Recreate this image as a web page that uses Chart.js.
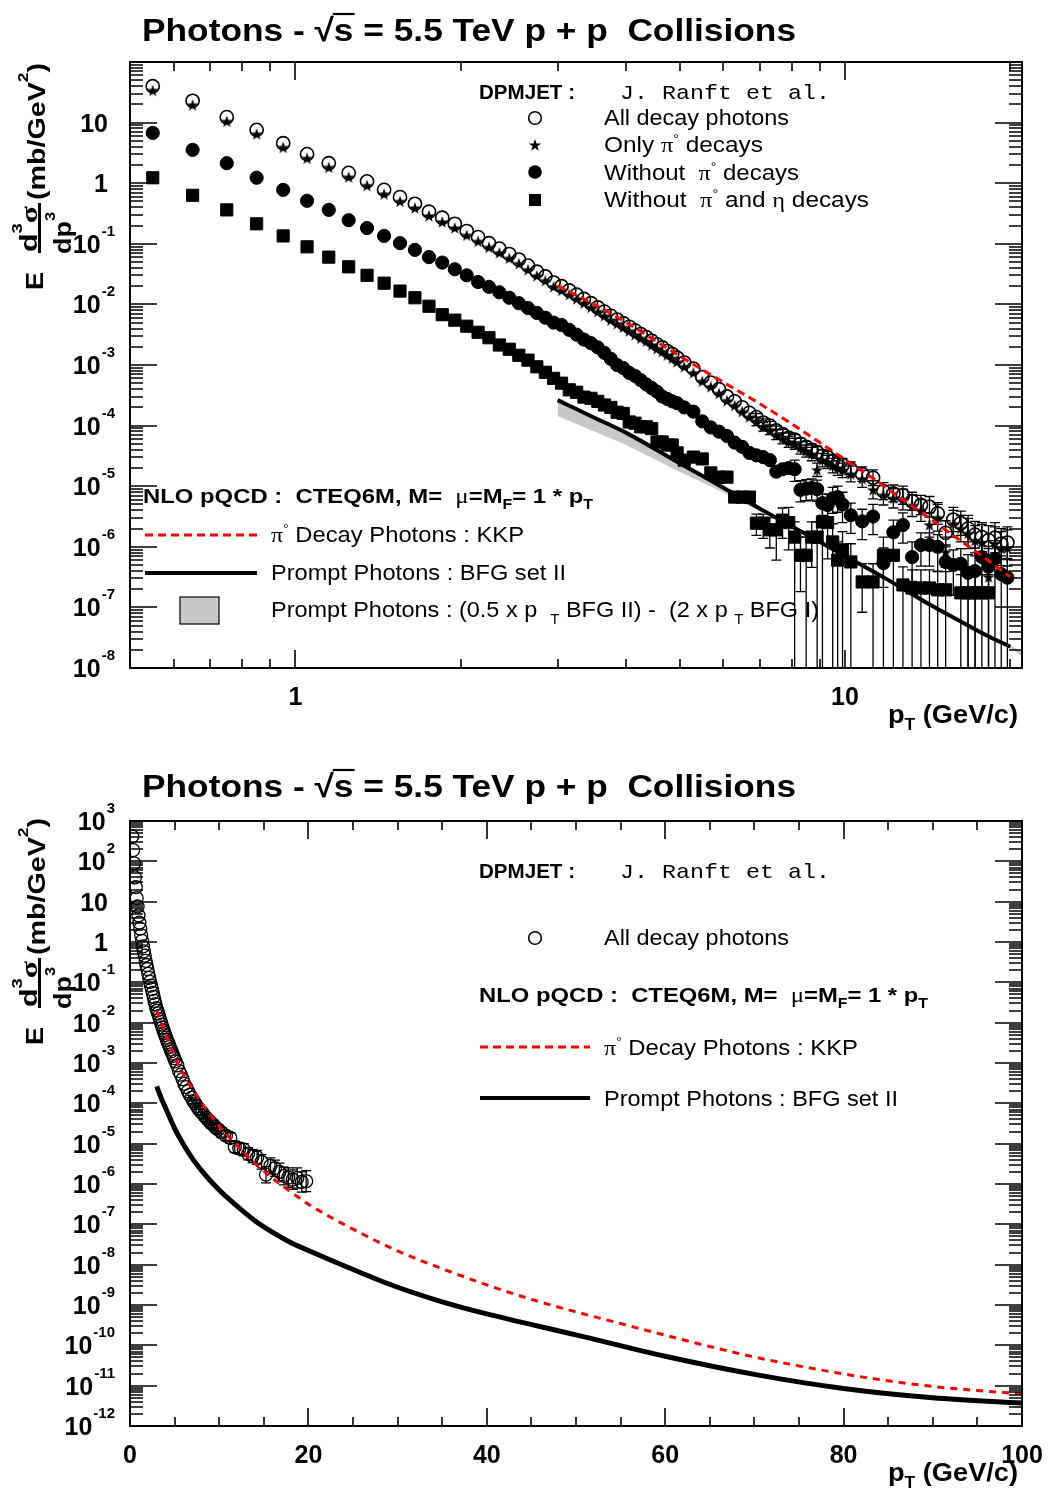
<!DOCTYPE html>
<html>
<head>
<meta charset="utf-8">
<script src="https://cdn.jsdelivr.net/npm/chart.js@4.4.0/dist/chart.umd.min.js"></script>
<style>
  body { margin: 0; background: #fff; }
  canvas { display: block; }
</style>
</head>
<body>
<canvas id="topChart" width="1048" height="750"></canvas>
<canvas id="bottomChart" width="1048" height="745"></canvas>
<script>
// DPMJET bins (GeV/c)
const pT = [0.55,0.65,0.75,0.85,0.95,1.05,1.15,1.25,1.35,1.45,
  1.55,1.65,1.75,1.85,1.95,2.05,2.15,2.25,2.35,2.45,
  2.55,2.65,2.75,2.85,2.95,3.05,3.15,3.25,3.35,3.45,
  3.55,3.65,3.75,3.85,3.95,4.05,4.15,4.25,4.35,4.45,
  4.55,4.65,4.75,4.85,4.95,
  5.1,5.3,5.5,5.7,5.9,6.1,6.3,6.5,6.7,6.9,
  7.1,7.3,7.5,7.7,7.9,8.1,8.3,8.5,8.7,8.9,
  9.1,9.3,9.5,9.7,9.9,
  10.25,10.75,11.25,11.75,12.25,12.75,13.25,13.75,14.25,14.75,
  15.25,15.75,16.25,16.75,17.25,17.75,18.25,18.75,19.25,19.75]

// values are log10 of E d3sigma/dp3 (mb/GeV^2)
const logAll = [1.60,1.36,1.09,0.88,0.66,0.48,0.33,0.17,0.03,-0.11,
  -0.23,-0.34,-0.47,-0.57,-0.67,-0.79,-0.89,-0.99,-1.08,-1.17,
  -1.26,-1.36,-1.46,-1.54,-1.64,-1.70,-1.77,-1.84,-1.91,-1.98,
  -2.05,-2.12,-2.19,-2.25,-2.31,-2.37,-2.43,-2.49,-2.54,-2.60,
  -2.66,-2.71,-2.77,-2.82,-2.88,
  -2.96,-3.06,-3.20,-3.29,-3.40,-3.52,-3.60,-3.70,-3.79,-3.86,
  -3.95,-4.00,-4.08,-4.14,-4.20,-4.23,-4.30,-4.35,-4.40,-4.44,
  -4.50,-4.52,-4.58,-4.62,-4.65,
  -4.72,-4.80,-4.86,-5.08,-5.12,-5.15,-5.25,-5.31,-5.34,-5.45,
  -5.77,-5.55,-5.61,-5.70,-5.80,-5.84,-5.89,-5.85,-5.95,-5.93]

const logPi0 = [1.53,1.29,1.02,0.81,0.59,0.41,0.26,0.10,-0.04,-0.18,
  -0.30,-0.41,-0.54,-0.64,-0.74,-0.86,-0.96,-1.06,-1.15,-1.24,
  -1.33,-1.43,-1.53,-1.61,-1.71,-1.77,-1.84,-1.91,-1.98,-2.05,
  -2.12,-2.19,-2.26,-2.32,-2.38,-2.44,-2.50,-2.56,-2.61,-2.67,
  -2.73,-2.78,-2.84,-2.89,-2.95,
  -3.03,-3.13,-3.27,-3.36,-3.47,-3.59,-3.67,-3.77,-3.86,-3.93,
  -4.02,-4.07,-4.15,-4.21,-4.27,-4.30,-4.37,-4.42,-4.47,-4.73,
  -4.57,-4.60,-4.66,-4.70,-4.74,
  -4.80,-4.88,-5.06,-5.15,-5.20,-5.22,-5.32,-5.40,-5.64,-5.52,
  -6.09,-5.62,-5.70,-5.78,-5.90,-5.93,-6.50,-5.95,-6.03,-6.02]

const logNoPi0 = [0.83,0.55,0.33,0.09,-0.11,-0.29,-0.44,-0.61,-0.74,-0.87,
  -0.99,-1.10,-1.22,-1.31,-1.42,-1.52,-1.63,-1.71,-1.80,-1.89,
  -1.98,-2.06,-2.14,-2.22,-2.30,-2.34,-2.42,-2.50,-2.58,-2.64,
  -2.71,-2.80,-2.90,-3.00,-3.05,-3.13,-3.18,-3.25,-3.32,-3.38,
  -3.44,-3.52,-3.56,-3.60,-3.63,
  -3.70,-3.77,-3.93,-4.03,-4.10,-4.17,-4.28,-4.35,-4.45,-4.49,
  -4.52,-4.57,-4.76,-4.72,-4.70,-4.72,-5.06,-5.04,-5.03,-5.05,
  -5.28,-5.31,-5.20,-5.18,-5.30,
  -5.48,-5.58,-5.50,-6.27,-5.76,-5.64,-6.17,-5.97,-5.97,-6.00,
  -6.25,-6.30,-6.28,-6.43,-6.40,-6.17,-6.33,-6.20,-6.45,-6.51]

const logNoPi0Eta = [0.09,-0.20,-0.44,-0.67,-0.87,-1.05,-1.22,-1.38,-1.52,-1.65,
  -1.78,-1.89,-2.03,-2.17,-2.26,-2.36,-2.46,-2.55,-2.67,-2.74,
  -2.84,-2.92,-3.03,-3.12,-3.22,-3.30,-3.41,-3.45,-3.53,-3.55,
  -3.60,-3.66,-3.70,-3.78,-3.80,-3.94,-3.96,-4.02,-4.02,-4.05,
  -4.27,-4.27,-4.32,-4.32,-4.45,
  -4.57,-4.52,-4.55,-4.78,-4.85,-4.85,-5.18,-5.18,-5.18,-5.61,
  -5.61,-5.72,-5.72,-5.56,-5.60,-5.84,-6.14,-6.14,-5.84,-5.84,
  -5.59,-5.60,-5.92,-6.22,-6.05,
  -6.25,-6.58,-6.58,-6.14,-6.14,-6.63,-6.68,-6.68,-6.68,-6.71,
  -6.71,null,-6.76,-6.76,-6.76,-6.76,-6.76,null,null,null]

// extra low pT bins only visible on the linear plot
const pTLow = [0.25, 0.35, 0.45]
const logAllLow = [2.62, 2.28, 1.95]

// error bars (decades) for the bins from pT = 6.9 on
const errStart = 54
const allErr = [0.06,0.06,0.07,0.07,0.08,0.08,0.08,0.09,0.09,0.10,0.10,0.10,0.10,0.10,0.11,0.11,
  0.12,0.12,0.13,0.14,0.14,0.15,0.15,0.16,0.17,0.18,0.20,0.20,0.20,0.22,0.22,0.24,0.24,0.25,0.25,0.26]
const pi0Err = [0.07,0.07,0.08,0.08,0.09,0.09,0.09,0.10,0.10,0.11,0.11,0.11,0.11,0.12,0.12,0.12,
  0.13,0.14,0.15,0.16,0.16,0.17,0.18,0.18,0.20,0.22,0.25,0.22,0.22,0.25,0.25,0.30,0.26,0.28,0.28,0.30]
const ncErrUp = [0,0,0,0,0,0,0.15,0.15,0.15,0.15,0.15,0.15,0.18,0.18,0.18,0.2,
  0.2,0.2,0.2,0.25,0.2,0.2,0.25,0.2,0.2,0.2,0.25,0.25,0.25,0.3,0.3,0.25,0.3,0.3,0.3,0.3]
const ncErrDn = [0,0,0,0,0,0,0.2,0.2,0.2,0.2,0.2,0.2,0.25,0.25,0.25,0.3,
  0.3,0.3,0.3,0.4,0.35,0.3,0.4,0.35,0.35,0.4,0.5,0.5,0.5,9,9,0.6,9,9,9,9]
const sqErrUp = [0.15,0.15,0.2,0.2,0.2,0.25,0.25,0.3,0.3,0.25,0.25,0.25,0.3,0.3,0.3,0.3,
  0.3,0.3,0.3,0.3,0.3,0.3,0.3,0.3,0.3,0.3,0.3,0,0.3,0.3,0.3,0.3,0.3,0,0,0]
const sqErrDn = [0.2,0.25,0.3,0.5,0.3,0.45,9,0.6,9,0.5,9,9,0.6,9,9,9,
  9,0.5,9,9,9,9,9,9,9,9,9,0,9,9,9,9,9,0,0,0]

// NLO pQCD curves
const kkpPT = [3,3.5,4,5,6,7,8,9,10,11,12,14,16,18,20,25,30,35,40,45,50,55,60,65,70,75,80,85,90,95,100]
const kkpLog = [-1.70,-2.00,-2.30,-2.85,-3.28,-3.64,-3.97,-4.28,-4.56,-4.81,-5.05,-5.48,-5.86,-6.19,-6.50,
  -7.12,-7.66,-8.10,-8.50,-8.86,-9.17,-9.46,-9.75,-10.03,-10.29,-10.51,-10.71,-10.88,-11.02,-11.12,-11.20]
const promptPT = [3,3.5,4,5,6,7,8,10,12,14,16,18,20,25,30,35,40,50,60,70,80,90,100]
const promptLog = [-3.58,-3.87,-4.12,-4.62,-5.02,-5.37,-5.66,-6.15,-6.55,-6.91,-7.20,-7.45,-7.65,
  -8.12,-8.56,-8.92,-9.22,-9.74,-10.27,-10.72,-11.07,-11.30,-11.43]
const bandPT = [3,4,5,6,7,8,10,14,20,21]
const bandHiLog = [-3.55,-4.09,-4.60,-5.00,-5.35,-5.63,-6.14,-6.90,-7.63,-7.72]
const bandLoLog = [-3.84,-4.32,-4.76,-5.10,-5.42,-5.68,-6.17,-6.94,-7.68,-7.80]

const sans = "'Liberation Sans', Arial, sans-serif"
const serif = "'Liberation Serif', 'Times New Roman', serif"
const mono = "'Liberation Mono', 'Courier New', monospace"
const B = s => `bold ${s}px ${sans}`
const R = s => `${s}px ${sans}`

const pts = (xs, logs) => xs.map((x, i) => ({ x, y: logs[i] == null ? null : Math.pow(10, logs[i]) }))
const padErr = (arr, lead = 0) => Array(lead).fill(0).concat(pT.map((_, i) => i >= errStart ? arr[i - errStart] : 0))

// filled five point star marker
const starImg = document.createElement('canvas')
starImg.width = 14
starImg.height = 14
{
  const sc = starImg.getContext('2d')
  sc.beginPath()
  for (let k = 0; k < 10; k++) {
    const r = k % 2 ? 2.5 : 6.4
    const a = -Math.PI / 2 + k * Math.PI / 5
    sc.lineTo(7 + r * Math.cos(a), 7.5 + r * Math.sin(a))
  }
  sc.closePath()
  sc.fillStyle = '#000'
  sc.fill()
}

// text made of pieces (sub/superscripts), stretched to a width if given
function rich(ctx, x, y, parts, width) {
  let total = 0
  for (const p of parts) { ctx.font = p[1]; total += ctx.measureText(p[0]).width }
  const sx = width ? width / total : 1
  ctx.save()
  ctx.translate(x, y)
  ctx.scale(sx, 1)
  ctx.fillStyle = '#000'
  ctx.strokeStyle = '#000'
  ctx.textAlign = 'left'
  ctx.textBaseline = 'alphabetic'
  let cx = 0
  for (const p of parts) {
    ctx.font = p[1]
    const w = ctx.measureText(p[0]).width
    ctx.fillText(p[0], cx, p[2] || 0)
    if (p[3]) {
      ctx.lineWidth = 2.2
      ctx.beginPath()
      ctx.moveTo(cx - 1, p[3])
      ctx.lineTo(cx + w + 1, p[3])
      ctx.stroke()
    }
    cx += w
  }
  ctx.restore()
}

function marker(ctx, kind, x, y) {
  ctx.save()
  ctx.fillStyle = '#000'
  ctx.strokeStyle = '#000'
  if (kind === 'open') { ctx.lineWidth = 1.6; ctx.beginPath(); ctx.arc(x, y, 6.3, 0, 2 * Math.PI); ctx.stroke() }
  if (kind === 'dot') { ctx.beginPath(); ctx.arc(x, y, 6.8, 0, 2 * Math.PI); ctx.fill() }
  if (kind === 'square') ctx.fillRect(x - 6, y - 6, 12, 12)
  if (kind === 'star') ctx.drawImage(starImg, x - 7, y - 7)
  ctx.restore()
}

function hline(ctx, x0, x1, y, width, color, dash) {
  ctx.save()
  ctx.strokeStyle = color
  ctx.lineWidth = width
  ctx.setLineDash(dash || [])
  ctx.beginPath()
  ctx.moveTo(x0, y)
  ctx.lineTo(x1, y)
  ctx.stroke()
  ctx.restore()
}

function logTicks(min, max) {
  const out = []
  for (let e = Math.floor(Math.log10(min)) - 1; e <= Math.ceil(Math.log10(max)); e++) {
    for (let m = 1; m <= 9; m++) {
      const v = m * Math.pow(10, e)
      if (v >= min * 0.999 && v <= max * 1.001) out.push({ v, major: m === 1 })
    }
  }
  return out
}

function yTitle(ctx, off) {
  const rot = (bx, by, parts, w) => {
    ctx.save()
    ctx.translate(bx, by + off)
    ctx.rotate(-Math.PI / 2)
    rich(ctx, 0, 0, parts, w)
    ctx.restore()
  }
  rot(43, 290, [['E', B(23)]], 18)
  rot(37, 252, [['d', B(23)], ['3', B(14), -15], ['σ', `bold 24px ${serif}`]], 46)
  rot(71, 254, [['dp', B(23)], ['3', B(14), -16]], 42)
  ctx.fillStyle = '#000'
  ctx.fillRect(38, 203 + off, 3, 50)
  rot(45, 200, [['(mb/GeV', B(23)], ['2', B(14), -17], [')', B(23)]], 137)
}

function yLabels(ctx, y, exps) {
  for (const e of exps) {
    const py = y.getPixelForValue(Math.pow(10, e))
    ctx.save()
    ctx.fillStyle = '#000'
    ctx.textBaseline = 'alphabetic'
    if (e === 1 || e === 0) {
      ctx.font = B(25)
      ctx.textAlign = 'right'
      ctx.fillText(e === 1 ? '10' : '1', 108, py + 9)
    } else {
      ctx.font = B(15)
      const ew = ctx.measureText(String(e)).width
      ctx.textAlign = 'right'
      ctx.fillText(String(e), 115, py - 8)
      ctx.font = B(25)
      ctx.fillText('10', 115 - ew - 1, py + 9)
    }
    ctx.restore()
  }
}

// frame, inside ticks on four sides, tick labels
const axesPlugin = {
  id: 'axes',
  afterDraw(chart, args, o) {
    const { ctx, chartArea: a, scales: { x, y } } = chart
    ctx.save()
    ctx.strokeStyle = '#000'
    ctx.lineWidth = 1.6
    ctx.beginPath()
    for (const t of o.xTicks) {
      const px = Math.round(x.getPixelForValue(t.v))
      const len = t.major ? 18 : 9
      ctx.moveTo(px, a.bottom); ctx.lineTo(px, a.bottom - len)
      ctx.moveTo(px, a.top); ctx.lineTo(px, a.top + len)
    }
    for (const t of logTicks(y.min, y.max)) {
      const py = Math.round(y.getPixelForValue(t.v))
      const len = t.major ? 27 : 13
      ctx.moveTo(a.left, py); ctx.lineTo(a.left + len, py)
      ctx.moveTo(a.right, py); ctx.lineTo(a.right - len, py)
    }
    ctx.stroke()
    ctx.lineWidth = 2
    ctx.strokeRect(a.left, a.top, a.right - a.left, a.bottom - a.top)
    ctx.restore()

    ctx.save()
    ctx.fillStyle = '#000'
    ctx.font = B(25)
    ctx.textAlign = 'center'
    for (const v of o.xLabels) ctx.fillText(String(v), x.getPixelForValue(v), a.bottom + 37)
    ctx.restore()
    yLabels(ctx, y, o.yExps)
    rich(ctx, 888, o.xTitleY, [['p', B(25)], ['T', B(16), 7], [' (GeV/c)', B(25)]], 130)
    yTitle(ctx, o.yTitleOff)
    rich(ctx, 142, o.titleY, [['Photons - ', B(32)], ['√', B(32)], ['s', B(32), 0, -27], [' = 5.5 TeV p + p  Collisions', B(32)]], 654)
    o.legend(ctx)
  }
}

// vertical error bars from the errUp / errDn arrays of a dataset
const errorPlugin = {
  id: 'errorBars',
  beforeDatasetsDraw(chart) {
    const { ctx, chartArea: a, scales: { x, y } } = chart
    ctx.save()
    ctx.beginPath()
    ctx.rect(a.left, a.top, a.right - a.left, a.bottom - a.top)
    ctx.clip()
    ctx.strokeStyle = '#000'
    ctx.lineWidth = 1.3
    for (const ds of chart.data.datasets) {
      if (!ds.errUp) continue
      ds.data.forEach((p, i) => {
        const up = ds.errUp[i], dn = ds.errDn[i]
        if (p.y == null || !(up || dn)) return
        const px = x.getPixelForValue(p.x)
        const yHi = y.getPixelForValue(p.y * Math.pow(10, up))
        const yLo = y.getPixelForValue(p.y / Math.pow(10, dn))
        ctx.beginPath()
        ctx.moveTo(px, yHi); ctx.lineTo(px, yLo)
        if (up) { ctx.moveTo(px - 5, yHi); ctx.lineTo(px + 5, yHi) }
        if (dn && dn < 5) { ctx.moveTo(px - 5, yLo); ctx.lineTo(px + 5, yLo) }
        ctx.stroke()
      })
    }
    ctx.restore()
  }
}

const pointSet = (data, style, extra) => Object.assign({
  data,
  showLine: false,
  pointStyle: style,
  pointRadius: 6,
  pointBackgroundColor: '#000',
  pointBorderColor: '#000',
  pointBorderWidth: 1
}, extra)

const curve = (data, color, width, dash, order) => ({
  data,
  showLine: true,
  borderColor: color,
  borderWidth: width,
  borderDash: dash || [],
  pointRadius: 0,
  cubicInterpolationMode: 'monotone',
  fill: false,
  order
})

const baseOptions = (xScale, yMin, yMax, pad, axes) => ({
  responsive: false,
  animation: false,
  events: [],
  layout: { padding: pad },
  scales: {
    x: Object.assign({ display: false }, xScale),
    y: { type: 'logarithmic', min: yMin, max: yMax, display: false }
  },
  plugins: { legend: { display: false }, tooltip: { enabled: false }, axes }
})

// ---------- top: log-log ----------
const topTicks = logTicks(0.5, 21)
new Chart(document.getElementById('topChart'), {
  type: 'scatter',
  data: {
    datasets: [
      Object.assign(curve(pts(bandPT, bandHiLog), 'rgba(0,0,0,0)', 0, null, 20), { cubicInterpolationMode: 'default', tension: 0 }),
      Object.assign(curve(pts(bandPT, bandLoLog), 'rgba(0,0,0,0)', 0, null, 19), { cubicInterpolationMode: 'default', tension: 0, fill: '-1', backgroundColor: '#c8c8c8' }),
      curve(pts(promptPT.filter(v => v <= 20), promptLog), '#000', 4, null, 15),
      pointSet(pts(pT, logNoPi0Eta), 'rect', { pointRadius: 8.6, order: 6, errUp: padErr(sqErrUp), errDn: padErr(sqErrDn) }),
      pointSet(pts(pT, logNoPi0), 'circle', { pointRadius: 6.6, order: 5, errUp: padErr(ncErrUp), errDn: padErr(ncErrDn) }),
      pointSet(pts(pT, logAll), 'circle', { pointRadius: 6.6, pointBackgroundColor: 'rgba(0,0,0,0)', pointBorderWidth: 1.6, order: 4, errUp: padErr(allErr), errDn: padErr(allErr) }),
      pointSet(pts(pT, logPi0), starImg, { order: 3, errUp: padErr(pi0Err), errDn: padErr(pi0Err) }),
      curve(pts(kkpPT.filter(v => v <= 20), kkpLog), '#ff0000', 3, [8, 5], 1)
    ]
  },
  options: baseOptions({ type: 'logarithmic', min: 0.5, max: 21 }, 1e-8, 1e2,
    { left: 130, right: 26, top: 62, bottom: 82 },
    {
      xTicks: topTicks,
      xLabels: [1, 10],
      yExps: [-8, -7, -6, -5, -4, -3, -2, -1, 0, 1],
      xTitleY: 723,
      yTitleOff: 0,
      titleY: 41,
      legend: ctx => {
        rich(ctx, 479, 99, [['DPMJET :', B(21)]], 96)
        rich(ctx, 620, 99, [['J. Ranft et al.', R(21).replace(sans, mono)]], 210)
        marker(ctx, 'open', 535, 118)
        marker(ctx, 'star', 535, 145)
        marker(ctx, 'dot', 535, 172)
        marker(ctx, 'square', 535, 200)
        rich(ctx, 604, 125, [['All decay photons', R(22)]], 185)
        rich(ctx, 604, 152, [['Only ', R(22)], ['π', `22px ${serif}`], ['°', R(13), -9], [' decays', R(22)]], 159)
        rich(ctx, 604, 180, [['Without  ', R(22)], ['π', `22px ${serif}`], ['°', R(13), -9], [' decays', R(22)]], 195)
        rich(ctx, 604, 207, [['Without  ', R(22)], ['π', `22px ${serif}`], ['°', R(13), -9], [' and ', R(22)], ['η', `22px ${serif}`], [' decays', R(22)]], 265)
        rich(ctx, 143, 503, [['NLO pQCD :  CTEQ6M, M=  ', B(21)], ['μ', `22px ${serif}`], ['=M', B(21)], ['F', B(14), 6], ['= 1 * p', B(21)], ['T', B(14), 6]], 450)
        hline(ctx, 145, 257, 535, 3, '#ff0000', [8, 5])
        hline(ctx, 145, 257, 573, 4, '#000')
        ctx.save()
        ctx.fillStyle = '#c8c8c8'
        ctx.fillRect(180, 597, 39, 27)
        ctx.strokeStyle = '#000'
        ctx.lineWidth = 1.2
        ctx.strokeRect(180, 597, 39, 27)
        ctx.restore()
        rich(ctx, 271, 542, [['π', `22px ${serif}`], ['°', R(13), -9], [' Decay Photons : KKP', R(22)]], 253)
        rich(ctx, 271, 580, [['Prompt Photons : BFG set II', R(22)]], 295)
        rich(ctx, 271, 617, [['Prompt Photons : (0.5 x p  ', R(22)], ['T', R(14), 7], [' BFG II) -  (2 x p ', R(22)], ['T', R(14), 7], [' BFG I)', R(22)]], 548)
      }
    }),
  plugins: [errorPlugin, axesPlugin]
})

// ---------- bottom: linear pT ----------
const bottomTicks = []
for (let v = 0; v <= 100; v += 5) bottomTicks.push({ v, major: v % 20 === 0 })
new Chart(document.getElementById('bottomChart'), {
  type: 'scatter',
  data: {
    datasets: [
      curve(pts(promptPT, promptLog), '#000', 5, null, 15),
      pointSet(pts(pTLow.concat(pT), logAllLow.concat(logAll)), 'circle', {
        pointRadius: 6.5, pointBackgroundColor: 'rgba(0,0,0,0)', pointBorderWidth: 1.3, order: 4,
        errUp: padErr(allErr, pTLow.length), errDn: padErr(allErr, pTLow.length)
      }),
      curve(pts(kkpPT, kkpLog), '#ff0000', 3, [7, 6], 1)
    ]
  },
  options: baseOptions({ type: 'linear', min: 0, max: 100 }, 1e-12, 1e3,
    { left: 130, right: 26, top: 71, bottom: 69 },
    {
      xTicks: bottomTicks,
      xLabels: [0, 20, 40, 60, 80, 100],
      yExps: [-12, -11, -10, -9, -8, -7, -6, -5, -4, -3, -2, -1, 0, 1, 2, 3],
      xTitleY: 731,
      yTitleOff: 5,
      titleY: 47,
      legend: ctx => {
        rich(ctx, 479, 128, [['DPMJET :', B(21)]], 96)
        rich(ctx, 620, 128, [['J. Ranft et al.', R(21).replace(sans, mono)]], 210)
        marker(ctx, 'open', 535, 188)
        rich(ctx, 604, 195, [['All decay photons', R(22)]], 185)
        rich(ctx, 479, 252, [['NLO pQCD :  CTEQ6M, M=  ', B(21)], ['μ', `22px ${serif}`], ['=M', B(21)], ['F', B(14), 6], ['= 1 * p', B(21)], ['T', B(14), 6]], 449)
        hline(ctx, 480, 590, 297, 3, '#ff0000', [8, 5])
        rich(ctx, 604, 305, [['π', `22px ${serif}`], ['°', R(13), -9], [' Decay Photons : KKP', R(22)]], 254)
        hline(ctx, 480, 590, 348, 4, '#000')
        rich(ctx, 604, 356, [['Prompt Photons : BFG set II', R(22)]], 294)
      }
    }),
  plugins: [errorPlugin, axesPlugin]
})
</script>
</body>
</html>
